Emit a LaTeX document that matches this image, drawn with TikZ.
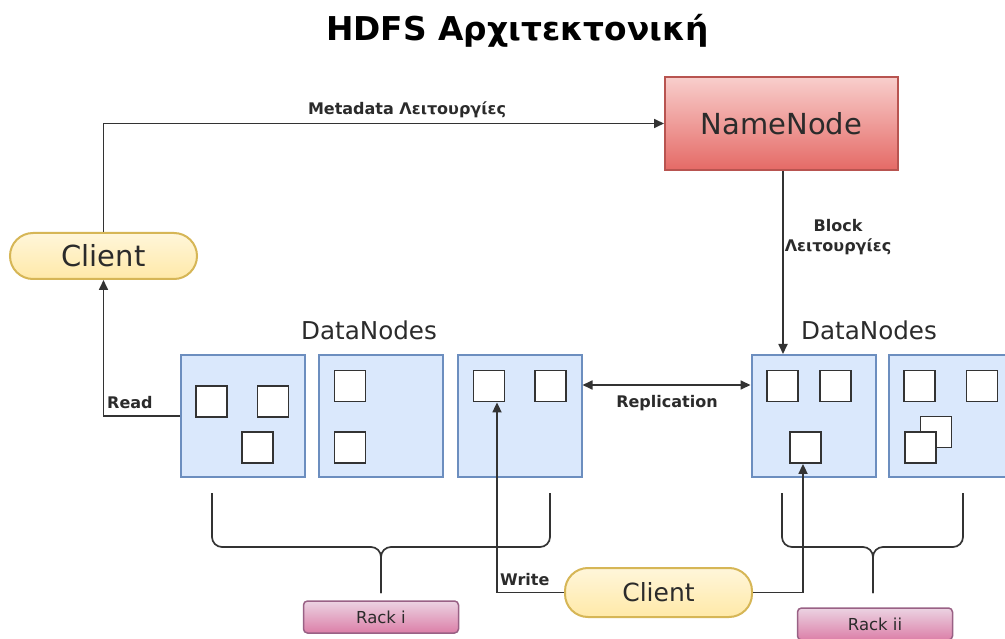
\documentclass[tikz,border=0pt]{standalone}
\usepackage{fontspec}
\setmainfont{DejaVu Sans}
\usetikzlibrary{arrows.meta,calc}

\definecolor{linec}{HTML}{333333}
\definecolor{textc}{HTML}{2B2B2B}
\definecolor{dnfill}{HTML}{DAE8FC}
\definecolor{dnborder}{HTML}{6C8EBF}
\definecolor{nntop}{HTML}{F8CECC}
\definecolor{nnbot}{HTML}{E56A66}
\definecolor{nnborder}{HTML}{B85450}
\definecolor{cltop}{HTML}{FFF6DA}
\definecolor{clbot}{HTML}{FFE9A8}
\definecolor{clborder}{HTML}{D6B656}
\definecolor{racktop}{HTML}{EBD3E2}
\definecolor{rackbot}{HTML}{DC7FA8}
\definecolor{rackborder}{HTML}{996185}

\tikzset{
  conn/.style={draw=linec, line width=1.7pt},
  arr/.style={conn, -{Triangle[length=10pt,width=9pt]}},
  dnbox/.style={draw=dnborder, fill=dnfill, line width=2pt,
    minimum width=124pt, minimum height=122pt, inner sep=0pt},
  blk/.style={draw=linec, fill=white, line width=1.8pt,
    minimum size=31pt, inner sep=0pt},
  lbl/.style={font=\bfseries\fontsize{16}{20}\selectfont, text=textc,
    inner sep=0pt},
  clientbox/.style={draw=clborder, line width=2pt, top color=cltop,
    bottom color=clbot, rounded corners=23pt, minimum width=187pt,
    inner sep=0pt, text=textc},
  rackbox/.style={draw=rackborder, line width=1.5pt, top color=racktop,
    bottom color=rackbot, rounded corners=4pt, minimum width=155pt,
    minimum height=32pt, inner sep=0pt, text=textc,
    font=\fontsize{16.5}{20}\selectfont},
  dnlabel/.style={font=\fontsize{24.6}{28}\selectfont, text=textc,
    inner sep=0pt, anchor=base}
}

\begin{document}
\begin{tikzpicture}[x=1pt,y=-1pt]
\useasboundingbox[fill=white] (0,0) rectangle (1005,639);

% title
\node[font=\bfseries\fontsize{32.8}{38}\selectfont, text=black, inner sep=0pt,
  anchor=base] (title) at (517.5,41) {HDFS Αρχιτεκτονική};

% name node
\node[draw=nnborder, line width=2pt, top color=nntop, bottom color=nnbot,
  minimum width=233pt, minimum height=93pt, inner sep=0pt,
  text=textc, font=\fontsize{29}{34}\selectfont] (nn) at (781.5,123.5) {NameNode};

% clients
\node[clientbox, minimum height=46pt, font=\fontsize{29}{34}\selectfont]
  (cl1) at (103.5,256) {Client};
\node[clientbox, minimum height=49pt, font=\fontsize{25}{30}\selectfont]
  (cl2) at (658.5,592.5) {Client};

% data nodes, rack i
\node[dnbox] (dn1) at (242.5,416) {};
\node[dnbox] (dn2) at (381,416) {};
\node[dnbox] (dn3) at (519.5,416) {};
% data nodes, rack ii
\node[dnbox] (dn4) at (813.5,416) {};
\node[dnbox] (dn5) at (951,416) {};

\node[dnlabel] (dnl1) at (369,340) {DataNodes};
\node[dnlabel] (dnl2) at (869,340) {DataNodes};

% blocks
\node[blk] (b11) at (211.5,401.5) {};
\node[blk] (b12) at (273,401.5) {};
\node[blk] (b13) at (257.5,447.5) {};
\node[blk] (b21) at (350,386) {};
\node[blk] (b22) at (350,447.5) {};
\node[blk] (b31) at (489,386) {};
\node[blk] (b32) at (550.5,386) {};
\node[blk] (b41) at (782.5,386) {};
\node[blk] (b42) at (835.5,386) {};
\node[blk] (b43) at (805.5,447.5) {};
\node[blk] (b51) at (919.5,386) {};
\node[blk] (b52) at (982,386) {};
\node[blk] (b53) at (936,432) {};
\node[blk] (b54) at (920.5,447.5) {};

% racks
\node[rackbox] (r1) at (381,617) {Rack i};
\node[rackbox] (r2) at (875,624) {Rack ii};

% rack braces
\draw[conn, rounded corners=10pt] (212,493) -- (212,547) -- (381,547) -- (381,593);
\draw[conn, rounded corners=10pt] (550,493) -- (550,547) -- (381,547) -- (381,593);
\draw[conn, rounded corners=10pt] (782,493) -- (782,547) -- (873,547) -- (873,593);
\draw[conn, rounded corners=10pt] (963,493) -- (963,547) -- (873,547) -- (873,593);

% connectors
\draw[arr] (cl1.north) |- (nn.west);
\draw[arr] ([xshift=1.5pt]nn.south) -- ([xshift=1.5pt]nn.south |- dn4.north);
\draw[arr] (dn1.west) -| (cl1.south);
\draw[conn, {Triangle[length=10pt,width=9pt]}-{Triangle[length=10pt,width=9pt]}]
  ([yshift=31pt]dn3.east) -- ([yshift=31pt]dn4.west);
\draw[arr] (cl2.west) -| ([xshift=8pt]b31.south);
\draw[arr] (cl2.east) -| ([xshift=-2.5pt]b43.south);

% connector labels
\node[lbl, anchor=base] (lmeta) at (407,115) {Metadata Λειτουργίες};
\node[lbl, anchor=north, align=center] (lblock) at (838,219) {Block\\Λειτουργίες};
\node[lbl, anchor=base west] (lread) at (107,408) {Read};
\node[lbl, anchor=base] (lrep) at (667,407) {Replication};
\node[lbl, anchor=base west] (lwrite) at (500,585) {Write};
\end{tikzpicture}
\end{document}
